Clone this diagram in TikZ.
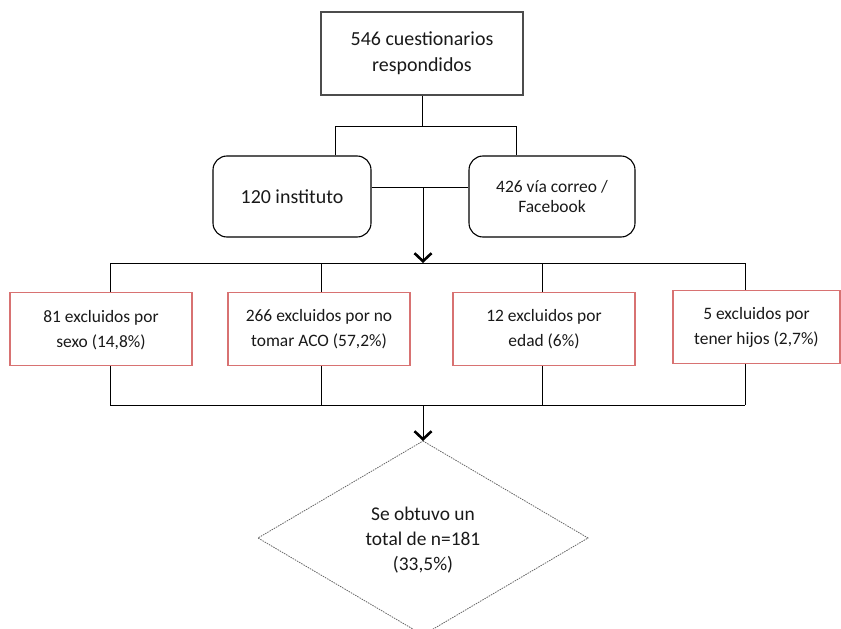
\documentclass[tikz,border=0pt]{standalone}
\usepackage{fontspec}
\setmainfont{Carlito}
\usetikzlibrary{arrows.meta}
\definecolor{redline}{HTML}{D87272}
\begin{document}
\begin{tikzpicture}[x=1bp,y=-1bp,
  txt/.style={align=center, text=black!90, inner sep=0pt},
  topbox/.style={txt, draw=black!70, line width=1.8bp, minimum width=202bp, minimum height=83bp, font=\fontsize{20}{26}\selectfont},
  rbox/.style={txt, draw=black, line width=1.1bp, rounded corners=14bp, minimum height=81bp},
  xbox/.style={txt, draw=redline, line width=1.4bp, minimum height=73bp, font=\fontsize{17.5}{25}\selectfont},
  conn/.style={draw=black, line width=1bp},
  arr/.style={conn, -{Straight Barb[length=8bp,width=17bp,line width=2.6bp]}},
  diam/.style={draw=black!60, dash pattern=on 1.5bp off 1bp, line width=0.8bp},
]
\useasboundingbox (0,0) rectangle (841,629);
\clip (0,0) rectangle (841,629);

\node[topbox] (top) at (422,53.5) {546 cuestionarios\\respondidos};
\node[rbox, minimum width=158bp, font=\fontsize{20}{24}\selectfont] (inst) at (292,196.5) {120 instituto};
\node[rbox, minimum width=166bp, font=\fontsize{17.5}{21}\selectfont] (corr) at (552,196.5) {426 vía correo /\\Facebook};

\node[xbox, minimum width=182bp, text depth=-6bp] (e1) at (101,329) {81 excluidos por\\sexo (14,8\%)};
\node[xbox, minimum width=182bp] (e2) at (319,329) {266 excluidos por no\\tomar ACO (57,2\%)};
\node[xbox, minimum width=182bp] (e3) at (544,329) {12 excluidos por\\edad (6\%)};
\node[xbox, minimum width=167bp] (e4) at (756.5,327) {5 excluidos por\\tener hijos (2,7\%)};

% top connectors
\coordinate (j1) at (422,127);
\coordinate (j1l) at (335,127);
\coordinate (j1r) at (516,127);
\draw[conn] (top.south) -- (j1);
\draw[conn] (inst.north -| j1l) -- (j1l) -- (j1r) -- (corr.north -| j1r);
\coordinate (j2) at (423,188);
\draw[conn] (inst.east |- j2) -- (corr.west |- j2);
\coordinate (j3) at (423,263);
\draw[arr] (j2) -- (j3);

% row above exclusion boxes
\coordinate (r1) at (110,263);
\coordinate (r2) at (321,263);
\coordinate (r3) at (542,263);
\coordinate (r4) at (745,263);
\draw[conn] (r1) -- (r4);
\draw[conn] (r1) -- (r1 |- e1.north);
\draw[conn] (r2) -- (r2 |- e2.north);
\draw[conn] (r3) -- (r3 |- e3.north);
\draw[conn] (r4) -- (r4 |- e4.north);

% row below exclusion boxes
\coordinate (b1) at (110,405);
\coordinate (b2) at (321,405);
\coordinate (b3) at (542,405);
\coordinate (b4) at (745,405);
\draw[conn] (b1) -- (b4);
\draw[conn] (e1.south -| b1) -- (b1);
\draw[conn] (e2.south -| b2) -- (b2);
\draw[conn] (e3.south -| b3) -- (b3);
\draw[conn] (e4.south -| b4) -- (b4);

% diamond
\coordinate (b0) at (423,405);
\coordinate (dtop) at (423,441);
\coordinate (dr) at (588,538);
\coordinate (dbot) at (423,635);
\coordinate (dl) at (258,538);
\draw[diam] (dtop) -- (dr) -- (dbot) -- (dl) -- cycle;
\draw[arr] (b0) -- (dtop);
\node[txt, font=\fontsize{19.5}{25}\selectfont] (dtext) at (423,540) {Se obtuvo un\\total de n=181\\(33,5\%)};
\end{tikzpicture}
\end{document}
